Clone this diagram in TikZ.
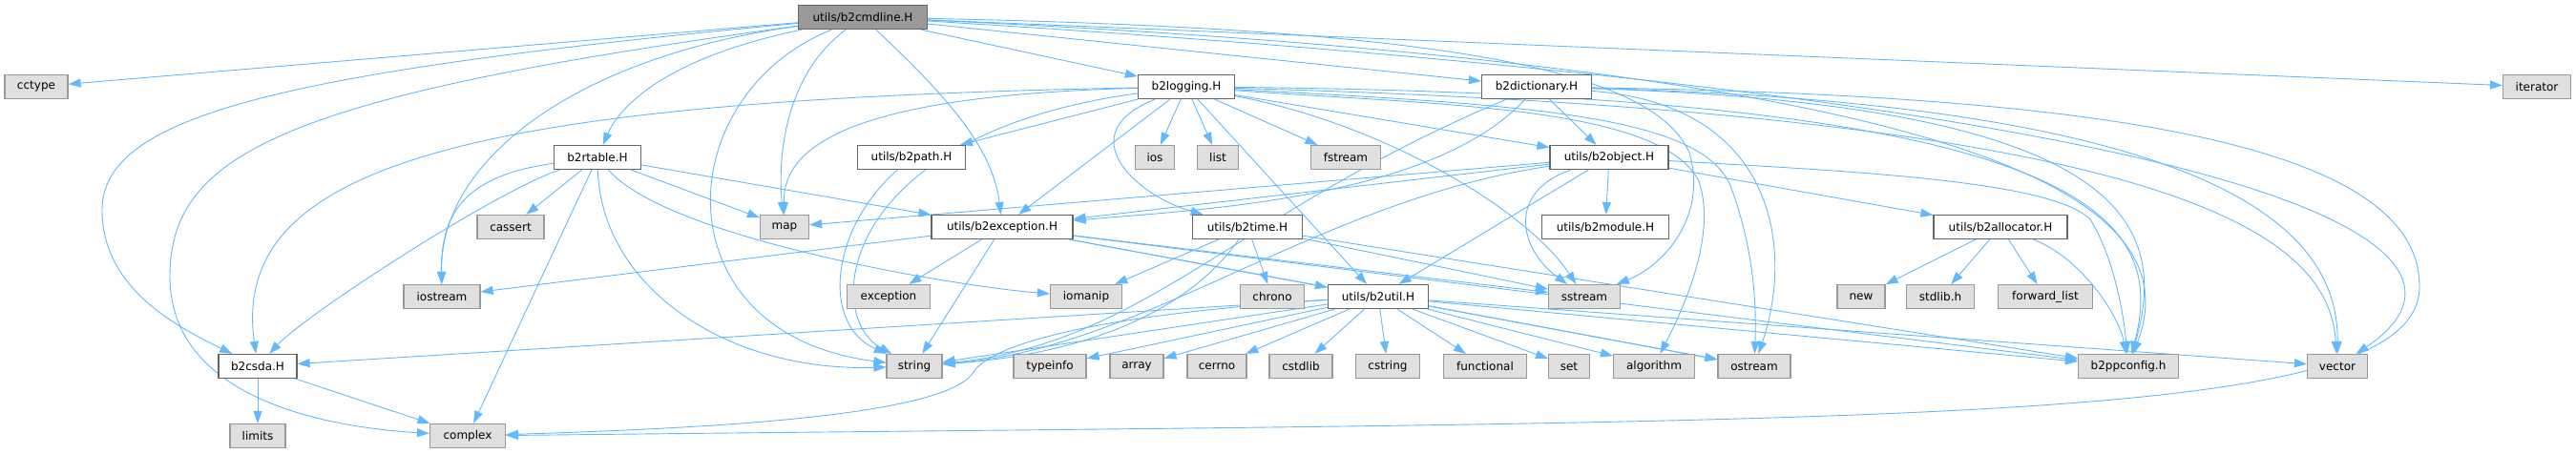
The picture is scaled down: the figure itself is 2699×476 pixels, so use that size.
\documentclass[tikz,border=0pt]{standalone}
\usepackage{fontspec}
\setmainfont{DejaVu Sans}
\usetikzlibrary{arrows.meta,backgrounds}
\definecolor{edgeblue}{HTML}{63B8FF}
\definecolor{sysfill}{HTML}{E0E0E0}
\definecolor{sysdraw}{HTML}{999999}
\definecolor{hdrdraw}{HTML}{666666}
\definecolor{mainfill}{HTML}{999999}

\begin{document}
\begin{tikzpicture}[x=1pt,y=-1pt,>={Triangle[length=13pt,width=9pt]}]
\tikzstyle{box}=[rectangle, minimum height=25pt, inner sep=0pt, line width=1.2pt, font=\fontsize{12}{14}\selectfont]
\tikzstyle{mainhdr}=[box, draw=hdrdraw, fill=mainfill]
\tikzstyle{hdr}=[box, draw=hdrdraw, fill=white]
\tikzstyle{sys}=[box, draw=sysdraw, fill=sysfill]
\tikzstyle{dep}=[->, draw=edgeblue, line width=0.9pt]
\tikzstyle{every edge}=[dep]
\useasboundingbox (0,0) rectangle (2699,476);

\node[mainhdr, minimum width=135pt] (cmdline) at (904,18) {utils/b2cmdline.H};

\node[sys, minimum width=66pt] (cctype) at (38,91) {cctype};
\node[hdr, minimum width=101pt] (logging) at (1243,91) {b2logging.H};
\node[hdr, minimum width=115pt] (dict) at (1610,91) {b2dictionary.H};
\node[sys, minimum width=71pt] (iterator) at (2658,91) {iterator};

\node[hdr, minimum width=91pt] (rtable) at (626,165) {b2rtable.H};
\node[hdr, minimum width=113pt] (bpath) at (955,165) {utils/b2path.H};
\node[sys, minimum width=41pt] (ios) at (1210,165) {ios};
\node[sys, minimum width=43pt] (list) at (1276,165) {list};
\node[sys, minimum width=73pt] (fstream) at (1410,165) {fstream};
\node[hdr, minimum width=124pt] (bobject) at (1686,165) {utils/b2object.H};

\node[sys, minimum width=70pt] (cassert) at (535,238) {cassert};
\node[sys, minimum width=51pt] (map) at (822,238) {map};
\node[hdr, minimum width=148pt] (bexcept) at (1050,238) {utils/b2exception.H};
\node[hdr, minimum width=115pt] (btime) at (1307,238) {utils/b2time.H};
\node[hdr, minimum width=133pt] (bmodule) at (1682,238) {utils/b2module.H};
\node[hdr, minimum width=140pt] (balloc) at (2096,238) {utils/b2allocator.H};

\node[sys, minimum width=80pt] (iostream) at (463,311) {iostream};
\node[sys, minimum width=87pt] (exception) at (931,311) {exception};
\node[sys, minimum width=75pt] (iomanip) at (1138,311) {iomanip};
\node[sys, minimum width=67pt] (chrono) at (1333,311) {chrono};
\node[hdr, minimum width=105pt] (butil) at (1444,311) {utils/b2util.H};
\node[sys, minimum width=75pt] (sstream) at (1660,311) {sstream};
\node[sys, minimum width=50pt] (new) at (1950,311) {new};
\node[sys, minimum width=71pt] (stdlibh) at (2033,311) {stdlib.h};
\node[sys, minimum width=99pt] (fwdlist) at (2143,311) {forward\_list};

\node[hdr, minimum width=82pt] (csda) at (270,384) {b2csda.H};
\node[sys, minimum width=58pt] (string) at (958,384) {string};
\node[sys, minimum width=76pt] (typeinfo) at (1100,384) {typeinfo};
\node[sys, minimum width=56pt] (array) at (1191,384) {array};
\node[sys, minimum width=62pt] (cerrno) at (1275,384) {cerrno};
\node[sys, minimum width=66pt] (cstdlib) at (1363,384) {cstdlib};
\node[sys, minimum width=67pt] (cstring) at (1454,384) {cstring};
\node[sys, minimum width=87pt] (functional) at (1556,384) {functional};
\node[sys, minimum width=43pt] (set) at (1644,384) {set};
\node[sys, minimum width=85pt] (algorithm) at (1733,384) {algorithm};
\node[sys, minimum width=76pt] (ostream) at (1838,384) {ostream};
\node[sys, minimum width=105pt] (ppconfig) at (2230,384) {b2ppconfig.h};
\node[sys, minimum width=63pt] (vector) at (2449,384) {vector};

\node[sys, minimum width=58pt] (limits) at (270,457) {limits};
\node[sys, minimum width=79pt] (complex) at (490,457) {complex};

\begin{scope}[on background layer]
\path (cmdline) edge (cctype)
                edge (logging)
                edge (dict)
                edge (iterator);
\draw[dep] (cmdline) .. controls (300,75) and (107,120) .. (107,220)
                     .. controls (107,300) and (180,340) .. (csda);
\draw[dep] (cmdline) .. controls (300,100) and (178,160) .. (178,290)
                     .. controls (178,400) and (300,445) .. (complex);
\draw[dep] (cmdline) .. controls (700,60) and (650,110) .. (rtable);
\draw[dep] (cmdline) .. controls (600,60) and (460,170) .. (iostream);
\draw[dep] (cmdline) .. controls (700,100) and (690,350) .. (string);
\draw[dep] (cmdline) .. controls (820,80) and (815,170) .. (map);
\draw[dep] (cmdline) .. controls (980,90) and (1040,150) .. (bexcept);
\draw[dep] (cmdline) .. controls (1500,30) and (1730,70) .. (1770,160)
                     .. controls (1790,230) and (1740,280) .. (sstream);
\draw[dep] (cmdline) .. controls (2050,70) and (2300,200) .. (ppconfig);
\draw[dep] (cmdline) .. controls (2585,120) and (2590,290) .. (vector);

\path (logging) edge (bpath)
                edge (ios)
                edge (list)
                edge (fstream)
                edge (bobject)
                edge (butil)
                edge (bexcept);
\draw[dep] (logging) .. controls (1450,130) and (1600,220) .. (sstream);
\draw[dep] (logging) .. controls (1120,140) and (1190,205) .. (btime);
\draw[dep] (logging) .. controls (900,100) and (820,150) .. (map);
\draw[dep] (logging) .. controls (880,140) and (860,330) .. (string);
\draw[dep] (logging) .. controls (500,105) and (240,170) .. (csda);
\draw[dep] (logging) .. controls (1600,110) and (1790,120) .. (1815,200)
                     .. controls (1840,270) and (1840,330) .. (ostream);
\draw[dep] (logging) .. controls (1500,110) and (1740,110) .. (1780,190)
                     .. controls (1800,250) and (1760,330) .. (algorithm);
\draw[dep] (logging) .. controls (2200,100) and (2270,230) .. (ppconfig);
\draw[dep] (logging) .. controls (2300,120) and (2440,250) .. (vector);

\path (dict) edge (bobject);
\draw[dep] (dict) .. controls (1500,210) and (1250,220) .. (bexcept);
\draw[dep] (dict) .. controls (1300,220) and (1200,360) .. (string);
\draw[dep] (dict) .. controls (1860,110) and (1880,260) .. (ostream);
\draw[dep] (dict) .. controls (2220,110) and (2275,230) .. (ppconfig);
\draw[dep] (dict) .. controls (2350,110) and (2450,250) .. (vector);
\draw[dep] (dict) .. controls (2200,100) and (2535,150) .. (2535,300)
                  .. controls (2535,450) and (2000,440) .. (complex);

\path (rtable) edge (cassert)
               edge (complex)
               edge (map)
               edge (bexcept);
\draw[dep] (rtable) .. controls (520,200) and (320,330) .. (csda);
\draw[dep] (rtable) .. controls (480,185) and (462,230) .. (iostream);
\draw[dep] (rtable) .. controls (630,300) and (760,390) .. (string);
\draw[dep] (rtable) .. controls (700,250) and (1000,300) .. (iomanip);

\draw[dep] (bpath) .. controls (870,240) and (860,340) .. (string);

\path (bexcept) edge (exception)
                edge (string)
                edge (iostream)
                edge (butil)
                edge (sstream)
                edge (ostream)
                edge (ppconfig);

\path (btime) edge (iomanip)
              edge (chrono)
              edge (sstream)
              edge (ppconfig);
\draw[dep] (btime) .. controls (1250,320) and (1150,370) .. (string);

\path (bobject) edge (map)
                edge (bexcept)
                edge (butil)
                edge (bmodule)
                edge (balloc);
\draw[dep] (bobject) .. controls (1380,210) and (1200,365) .. (string);
\draw[dep] (bobject) .. controls (1580,200) and (1590,260) .. (sstream);
\draw[dep] (bobject) .. controls (1950,180) and (2150,190) .. (2190,230)
                     .. controls (2215,270) and (2225,330) .. (ppconfig);

\path (balloc) edge (new)
               edge (stdlibh)
               edge (fwdlist);
\draw[dep] (balloc) .. controls (2180,270) and (2220,330) .. (ppconfig);

\path (butil) edge (csda)
              edge (string)
              edge (typeinfo)
              edge (array)
              edge (cerrno)
              edge (cstdlib)
              edge (cstring)
              edge (functional)
              edge (set)
              edge (algorithm)
              edge (ostream)
              edge (ppconfig)
              edge (vector);
\draw[dep] (butil) .. controls (1150,330) and (1040,360) .. (1020,390)
                   .. controls (990,440) and (700,450) .. (complex);

\path (csda) edge (limits)
             edge (complex);
\end{scope}
\end{tikzpicture}
\end{document}
